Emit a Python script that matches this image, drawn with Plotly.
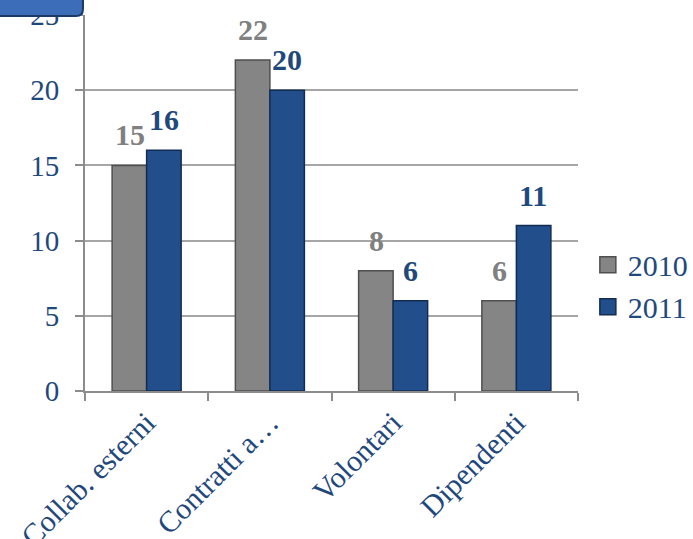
import plotly.graph_objects as go

categories = ["Collab. esterni", "Contratti a…", "Volontari", "Dipendenti"]
series_names = ["2010", "2011"]
values_2010 = [15, 22, 8, 6]
values_2011 = [16, 20, 6, 11]
y_ticks = [0, 5, 10, 15, 20, 25]

FONT = "Liberation Serif, DejaVu Serif, serif"
BLUE_TXT = "#1F497D"
GRAY_TXT = "#808080"
GRAY_BAR = "#858585"
BLUE_BAR = "#224E8C"

fig = go.Figure()
fig.add_trace(go.Bar(
    x=categories, y=values_2010, name=series_names[0], showlegend=False,
    marker=dict(color=GRAY_BAR, line=dict(color="#4f4f4f", width=1.5)),
))
fig.add_trace(go.Bar(
    x=categories, y=values_2011, name=series_names[1], showlegend=False,
    marker=dict(color=BLUE_BAR, line=dict(color="#132d52", width=1.5)),
))
# legend entries (larger square swatches)
for name, col, lc in [(series_names[0], GRAY_BAR, "#4f4f4f"), (series_names[1], BLUE_BAR, "#132d52")]:
    fig.add_trace(go.Scatter(x=[None], y=[None], mode="markers", name=name,
                             marker=dict(symbol="square", size=16, color=col,
                                         line=dict(color=lc, width=1.5))))

# value labels placed above each bar through the axis scales
for cat, v in zip(categories, values_2010):
    fig.add_annotation(x=cat, y=v, text=f"<b>{v}</b>", showarrow=False,
                       xshift=-17, yshift=12, yanchor="bottom",
                       font=dict(family=FONT, size=30, color=GRAY_TXT))
for cat, v in zip(categories, values_2011):
    fig.add_annotation(x=cat, y=v, text=f"<b>{v}</b>", showarrow=False,
                       xshift=17, yshift=12, yanchor="bottom",
                       font=dict(family=FONT, size=30, color=BLUE_TXT))

fig.update_layout(
    width=693, height=539,
    margin=dict(l=85, r=115, t=15, b=148, autoexpand=False),
    paper_bgcolor="white", plot_bgcolor="white",
    barmode="group", bargap=0.44, bargroupgap=0,
    font=dict(family=FONT, size=20, color=BLUE_TXT),
    showlegend=True,
    legend=dict(x=1.02, y=0.28, xanchor="left", yanchor="middle",
                font=dict(family=FONT, size=30, color=BLUE_TXT),
                itemsizing="trace", tracegroupgap=0, itemwidth=30),
    xaxis=dict(tickangle=-45, showline=True, linecolor="#8c8c8c", linewidth=2,
               ticks="outside", tickson="boundaries", ticklen=8, tickcolor="#8c8c8c",
               tickwidth=2, ticklabelstandoff=0,
               tickfont=dict(family=FONT, size=30, color=BLUE_TXT)),
    yaxis=dict(range=[0, 25], tickvals=y_ticks, showline=True, linecolor="#8c8c8c",
               linewidth=2, ticks="outside", ticklen=8, tickcolor="#8c8c8c", tickwidth=2,
               ticklabelstandoff=10, ticklabeloverflow="allow",
               showgrid=True, gridcolor="#a6a6a6", gridwidth=2,
               tickfont=dict(family=FONT, size=29, color=BLUE_TXT)),
)

# partially visible rounded title box in the top-left corner
fig.add_shape(
    type="path", xref="paper", yref="paper",
    path="M -0.20 1.08 L -0.0041 1.08 L -0.0041 1.016 Q -0.0041 0.9973 -0.0183 0.9973 L -0.20 0.9973 Z",
    fillcolor="#3C6DB8", line=dict(color="#1d3a66", width=2), layer="above",
)

fig.write_html("out.html", config={"displayModeBar": False},
               post_script="document.body.style.margin='0';")
